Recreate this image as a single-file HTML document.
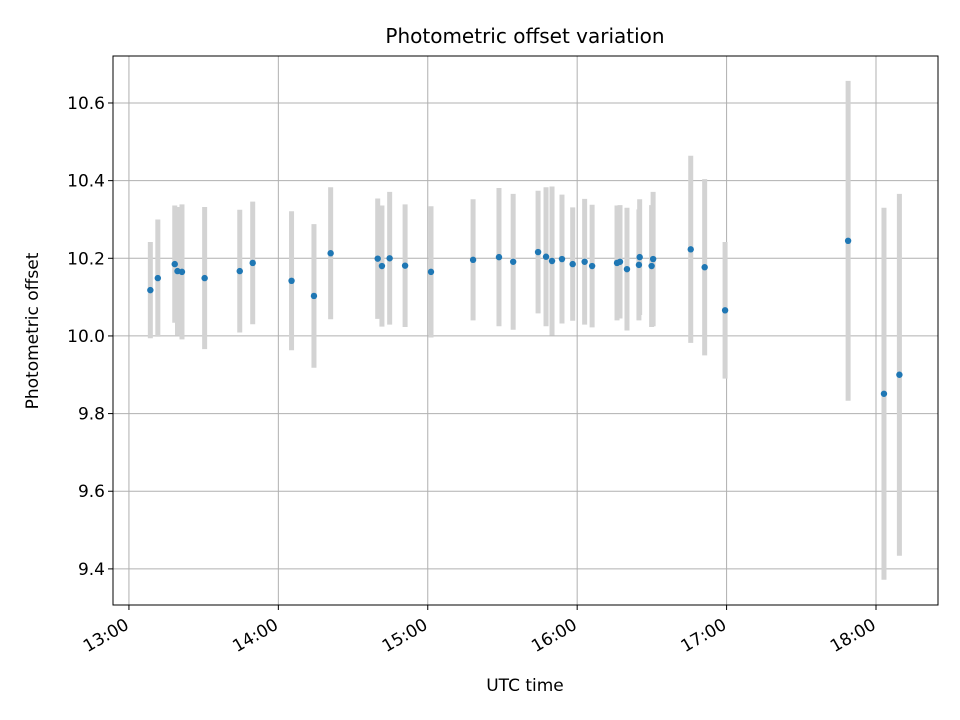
<!DOCTYPE html>
<html><head><meta charset="utf-8"><style>
body{margin:0;background:#fff}
svg{display:block;font-family:"DejaVu Sans","Liberation Sans",sans-serif}
</style></head><body>
<svg id="chart" width="960" height="720" xmlns="http://www.w3.org/2000/svg">
<rect width="960" height="720" fill="#fff"/>
<text x="525" y="43" style="font-size:20px" text-anchor="middle">Photometric offset variation</text>
<g id="grid"></g><g id="bars"></g><g id="dots"></g><g id="axes"></g>
<rect x="113" y="56" width="825" height="549" fill="none" stroke="#000" stroke-width="1"/>
<text x="525" y="691" style="font-size:17px" text-anchor="middle">UTC time</text>
<text transform="translate(38,331) rotate(-90)" style="font-size:17px" text-anchor="middle">Photometric offset</text>
</svg>
<script>
// minutes after 13:00
const times=[8.6,11.6,18.4,19.5,21.3,30.4,44.5,49.7,65.3,74.3,81.0,99.9,101.6,104.7,110.9,121.3,138.2,148.6,154.3,164.3,167.5,169.9,173.9,178.2,183.0,186.0,196.0,197.2,200.0,204.8,205.1,209.9,210.5,225.6,231.2,239.4,288.8,303.2,309.4];
const offsets=[10.118,10.149,10.185,10.167,10.165,10.149,10.167,10.188,10.142,10.103,10.213,10.199,10.180,10.200,10.181,10.165,10.196,10.203,10.191,10.216,10.204,10.193,10.198,10.185,10.191,10.180,10.188,10.191,10.172,10.183,10.203,10.180,10.198,10.223,10.177,10.066,10.245,9.851,9.900];
const errors=[0.124,0.151,0.151,0.165,0.174,0.183,0.158,0.158,0.179,0.185,0.170,0.155,0.156,0.171,0.158,0.169,0.156,0.178,0.175,0.158,0.179,0.192,0.166,0.146,0.162,0.158,0.148,0.146,0.158,0.143,0.149,0.157,0.173,0.241,0.227,0.176,0.412,0.479,0.466];
const xTicks=[0,60,120,180,240,300];
const xTickLabels=["13:00","14:00","15:00","16:00","17:00","18:00"];
const yTicks=[9.4,9.6,9.8,10.0,10.2,10.4,10.6];
const yTickLabels=["9.4","9.6","9.8","10.0","10.2","10.4","10.6"];
const NS="http://www.w3.org/2000/svg";
const X0=113,X1=938,Y0=56,Y1=605,xmin=-6.4,xmax=324.9,ymin=9.307,ymax=10.721;
const xs=t=>X0+(t-xmin)/(xmax-xmin)*(X1-X0);
const ys=v=>Y1-(v-ymin)/(ymax-ymin)*(Y1-Y0);
function mk(tag,attrs,parent){const e=document.createElementNS(NS,tag);for(const k in attrs)e.setAttribute(k,attrs[k]);parent.appendChild(e);return e;}
const grid=document.getElementById('grid'),axes=document.getElementById('axes'),bars=document.getElementById('bars'),dots=document.getElementById('dots');
xTicks.forEach((t,i)=>{const x=xs(t);
 const g=mk('line',{x1:x,x2:x,y1:Y0,y2:Y1,stroke:'#b0b0b0','stroke-width':1},grid);
 
 
 const tk=mk('line',{x1:x,x2:x,y1:Y1,y2:Y1+5,stroke:'#000'},axes);
 
 
 const tx=mk('text',{style:'font-size:17px','text-anchor':'end',transform:`translate(${x+1},${Y1+23}) rotate(-30)`},axes);
 tx.textContent=xTickLabels[i];
 
 
});
yTicks.forEach((v,i)=>{const y=ys(v);
 const g=mk('line',{x1:X0,x2:X1,y1:y,y2:y,stroke:'#b0b0b0','stroke-width':1},grid);
 
 
 const tk=mk('line',{x1:X0-5,x2:X0,y1:y,y2:y,stroke:'#000'},axes);
 
 
 const tx=mk('text',{x:X0-8,y:y+6,style:'font-size:17px','text-anchor':'end'},axes);
 tx.textContent=yTickLabels[i];
 
 
});
times.forEach((t,i)=>{const x=xs(t);
 const b=mk('line',{x1:x,x2:x,y1:ys(offsets[i]+errors[i]),y2:ys(offsets[i]-errors[i]),stroke:'#d3d3d3','stroke-width':5},bars);
 
 
 const c=mk('circle',{cx:x,cy:ys(offsets[i]),r:3.2,fill:'#1f77b4'},dots);
 
 
});
</script>
</body></html>
